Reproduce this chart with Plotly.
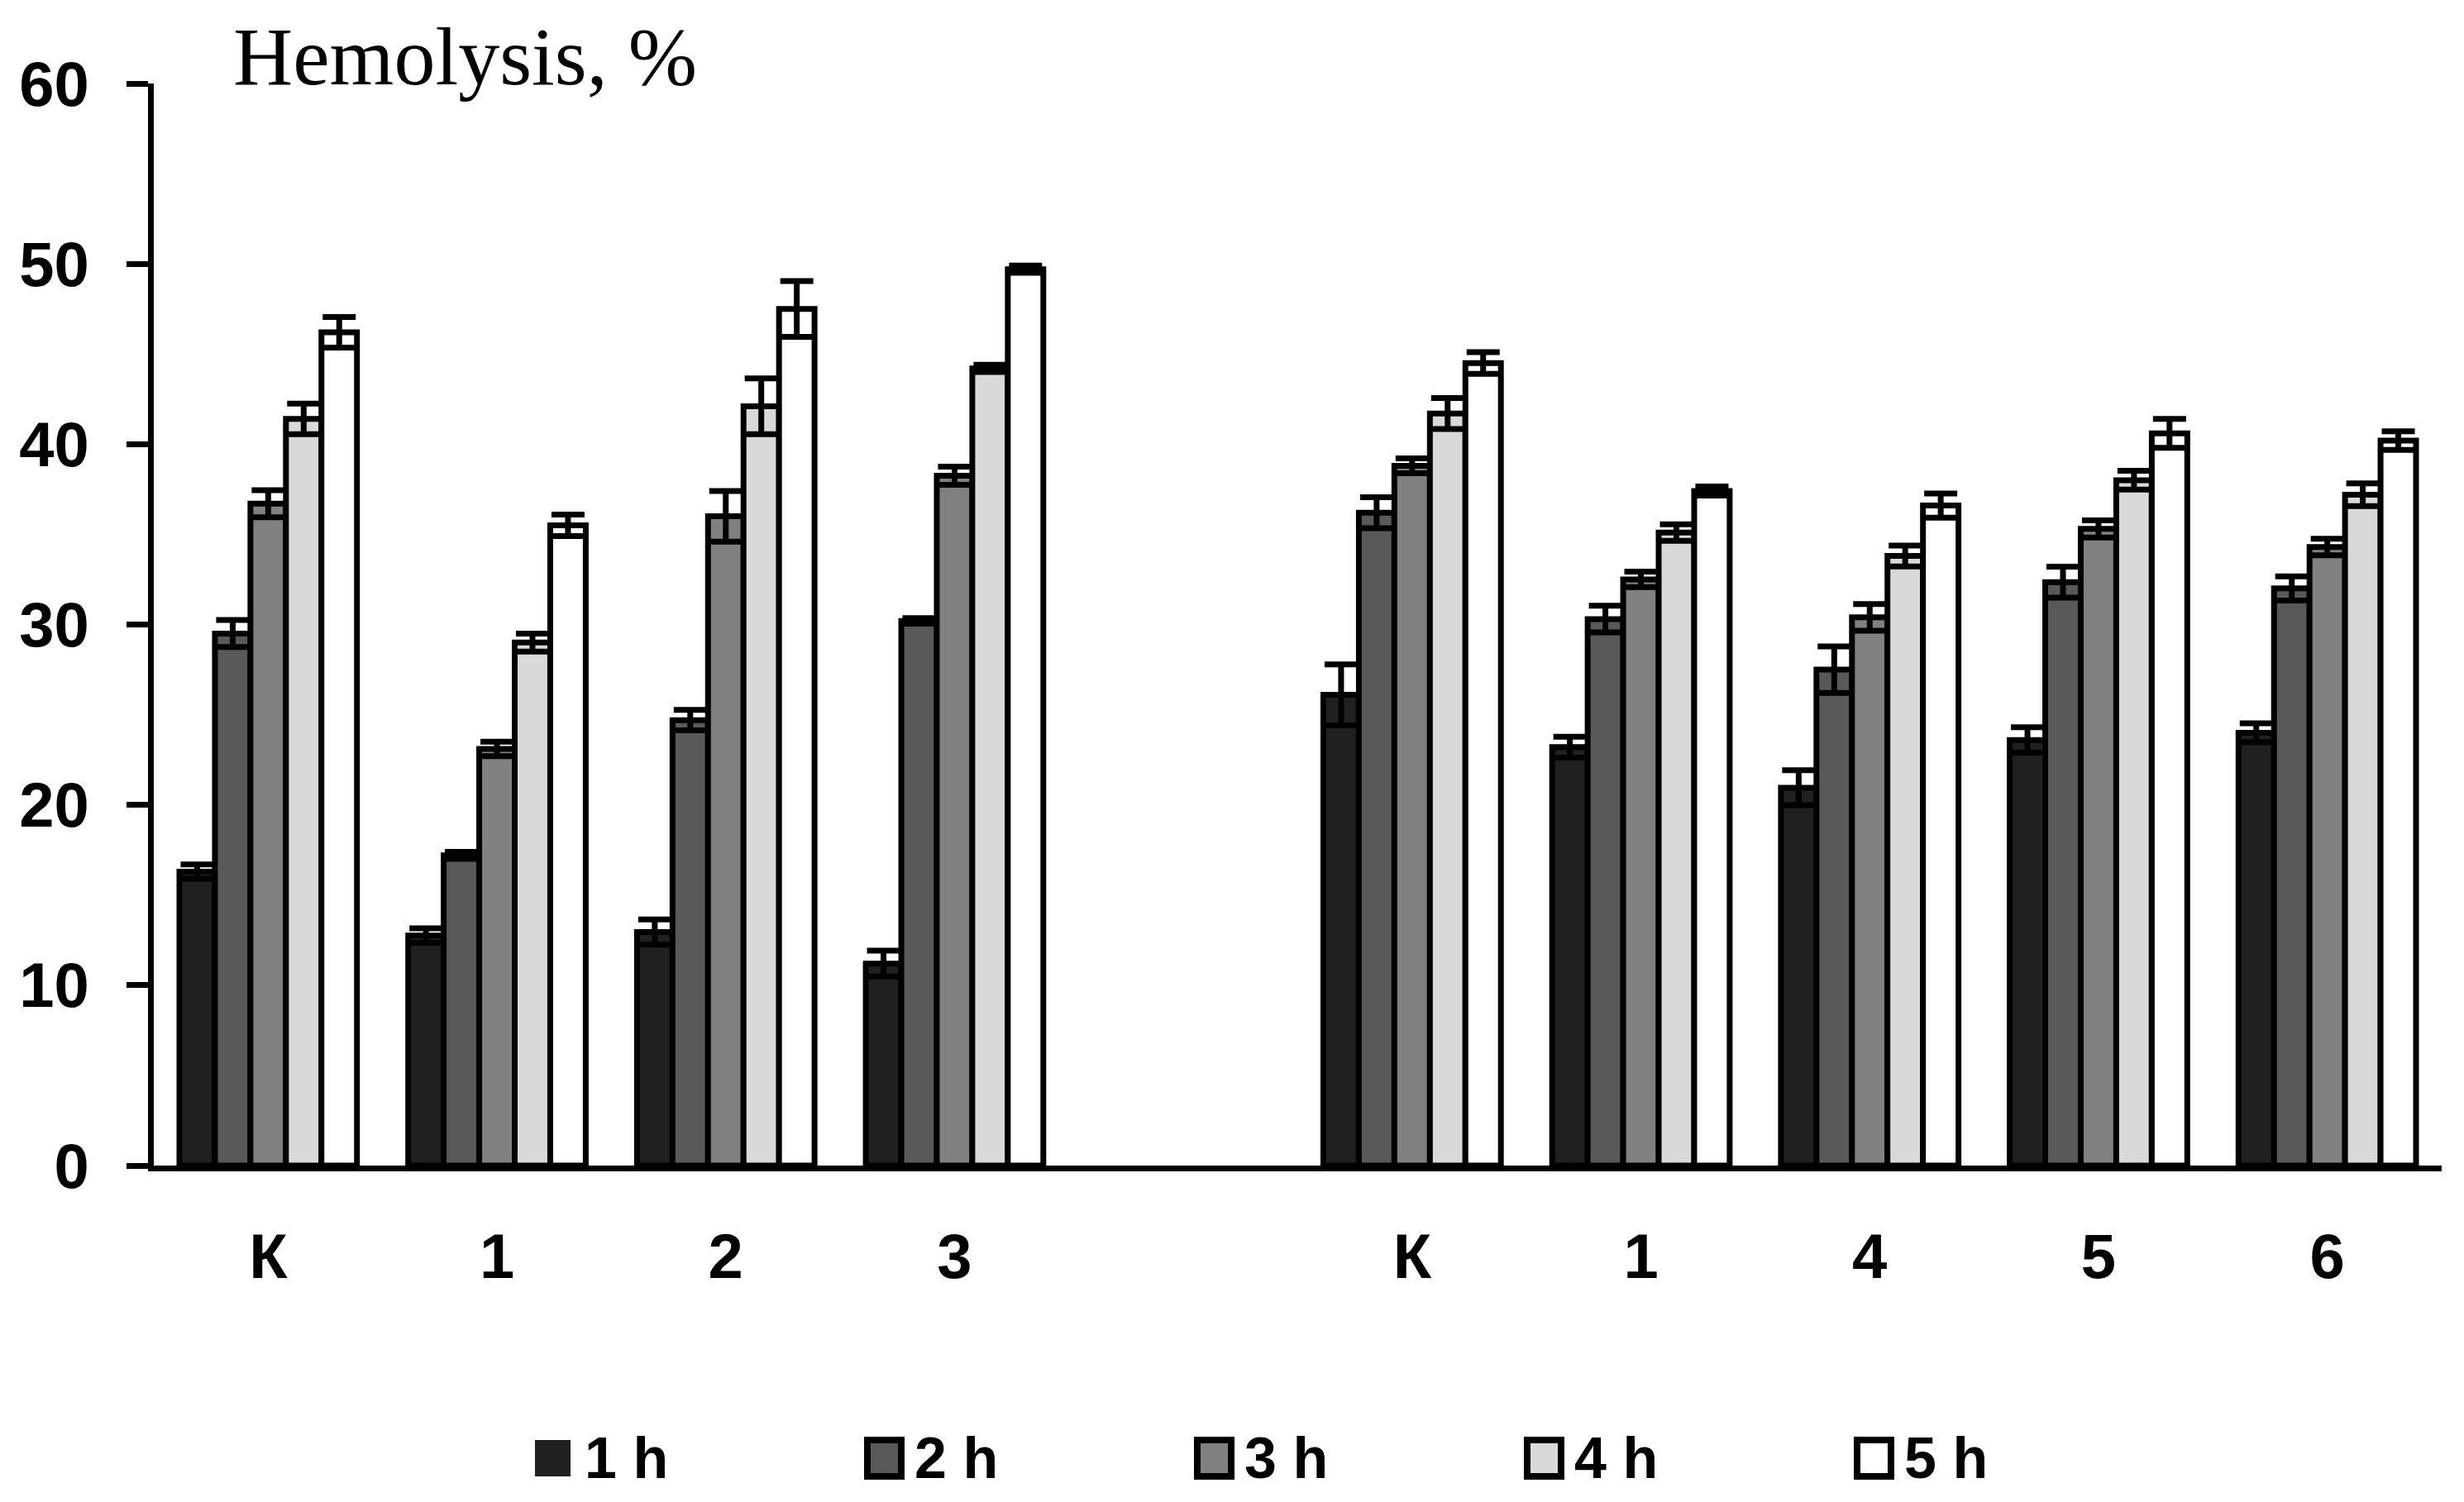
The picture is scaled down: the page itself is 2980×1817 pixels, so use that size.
import plotly.graph_objects as go

# ---- data ----
groups_left = ["К", "1", "2", "3"]
groups_right = ["К", "1", "4", "5", "6"]
series_names = ["1 h", "2 h", "3 h", "4 h", "5 h"]

h1 = [16.3, 12.75, 12.95, 11.2, 26.1, 23.2, 20.95, 23.6, 24.0]
h2 = [29.5, 17.2, 24.7, 30.2, 36.2, 30.3, 27.5, 32.35, 32.0]
h3 = [36.7, 23.1, 36.0, 38.25, 38.8, 32.5, 30.4, 35.3, 34.3]
h4 = [41.4, 29.0, 42.1, 44.2, 41.7, 35.1, 33.8, 38.0, 37.2]
h5 = [46.2, 35.5, 47.5, 49.7, 44.5, 37.4, 36.6, 40.6, 40.2]

e1 = [0.4, 0.4, 0.7, 0.72, 1.69, 0.58, 0.97, 0.7, 0.52]
e2 = [0.75, 0.2, 0.57, 0.15, 0.86, 0.74, 1.29, 0.86, 0.67]
e3 = [0.75, 0.4, 1.4, 0.5, 0.41, 0.43, 0.74, 0.48, 0.46]
e4 = [0.85, 0.5, 1.55, 0.2, 0.86, 0.46, 0.58, 0.52, 0.63]
e5 = [0.85, 0.6, 1.55, 0.2, 0.6, 0.25, 0.67, 0.8, 0.52]

y_ticks = [0, 10, 20, 30, 40, 50, 60]

# ---- layout constants (page pixels; the page body adds an 8px offset) ----
W, H = 2980, 1817
OFF = 8
PL, PR, PT, PB = 186, 2953, 101, 1410   # plot edges on the page
L, T = PL - OFF, PT - OFF
R = W - (PR - OFF)
B = H - (PB - OFF)

def px_x(px):
    return (px - OFF - L) / (W - L - R)

def px_y(py):
    return (H - B - (py - OFF)) / (H - T - B)

# ---- build ----
n_left = len(groups_left)
slots = list(range(n_left)) + [n_left + 1 + i for i in range(len(groups_right))]
tick_text = groups_left + [""] + groups_right
tick_vals = list(range(len(tick_text)))

colors = ["#202020", "#595959", "#808080", "#d9d9d9", "#ffffff"]
values = [h1, h2, h3, h4, h5]
errors = [e1, e2, e3, e4, e5]

fig = go.Figure()
for name, col, v, e in zip(series_names, colors, values, errors):
    fig.add_trace(go.Bar(
        x=slots, y=v, name=name, showlegend=False,
        marker=dict(color=col, line=dict(color="black", width=7)),
        error_y=dict(type="data", array=e, visible=True, color="black",
                     thickness=7, width=20),
    ))

bold_font = dict(family="Liberation Sans, Arial, sans-serif", size=76, color="black", weight="bold")
legend_font = dict(family="Liberation Sans, Arial, sans-serif", size=70, color="black", weight="bold")

# ---- legend (drawn as shapes + text, below the axis) ----
shapes = []
annotations = []
leg_x0, leg_step, leg_yc = 647, 399, 1764
for i, (name, col) in enumerate(zip(series_names, colors)):
    sx = leg_x0 + i * leg_step
    if i == 0:
        shapes.append(dict(type="rect", xref="paper", yref="paper",
                           x0=px_x(sx), x1=px_x(sx + 43), y0=px_y(leg_yc + 22), y1=px_y(leg_yc - 22),
                           fillcolor=col, line=dict(width=0)))
    else:
        shapes.append(dict(type="rect", xref="paper", yref="paper",
                           x0=px_x(sx + 3), x1=px_x(sx + 44), y0=px_y(leg_yc + 22), y1=px_y(leg_yc - 22),
                           fillcolor=col, line=dict(color="black", width=8)))
    annotations.append(dict(text=name, xref="paper", yref="paper",
                            x=px_x(sx + 58), y=px_y(leg_yc), xanchor="left", yanchor="middle",
                            showarrow=False, font=legend_font))

annotations.append(dict(
    text="Hemolysis, %", xref="paper", yref="paper", x=px_x(280), y=px_y(68),
    xanchor="left", yanchor="middle", showarrow=False,
    font=dict(family="Liberation Serif, Times New Roman, serif", size=100, color="black", weight="normal"),
))

fig.update_layout(
    width=W, height=H,
    paper_bgcolor="white", plot_bgcolor="white",
    margin=dict(l=L, r=R, t=T, b=B, autoexpand=False),
    barmode="group", bargap=0.224, bargroupgap=0,
    font=bold_font,
    showlegend=False,
    shapes=shapes,
    annotations=annotations,
)
fig.update_xaxes(
    range=[-0.5, len(tick_text) - 0.5], tickvals=tick_vals, ticktext=tick_text,
    showline=True, linecolor="black", linewidth=7, ticks="", showgrid=False, zeroline=False,
    tickfont=bold_font, ticklabelstandoff=38,
)
fig.update_yaxes(
    range=[0, 60], tickvals=y_ticks, showline=True, linecolor="black", linewidth=7,
    ticks="outside", ticklen=26, tickwidth=7, tickcolor="black",
    showgrid=False, zeroline=False,
    tickfont=bold_font, ticklabelstandoff=30,
)

fig.write_html("out.html")
